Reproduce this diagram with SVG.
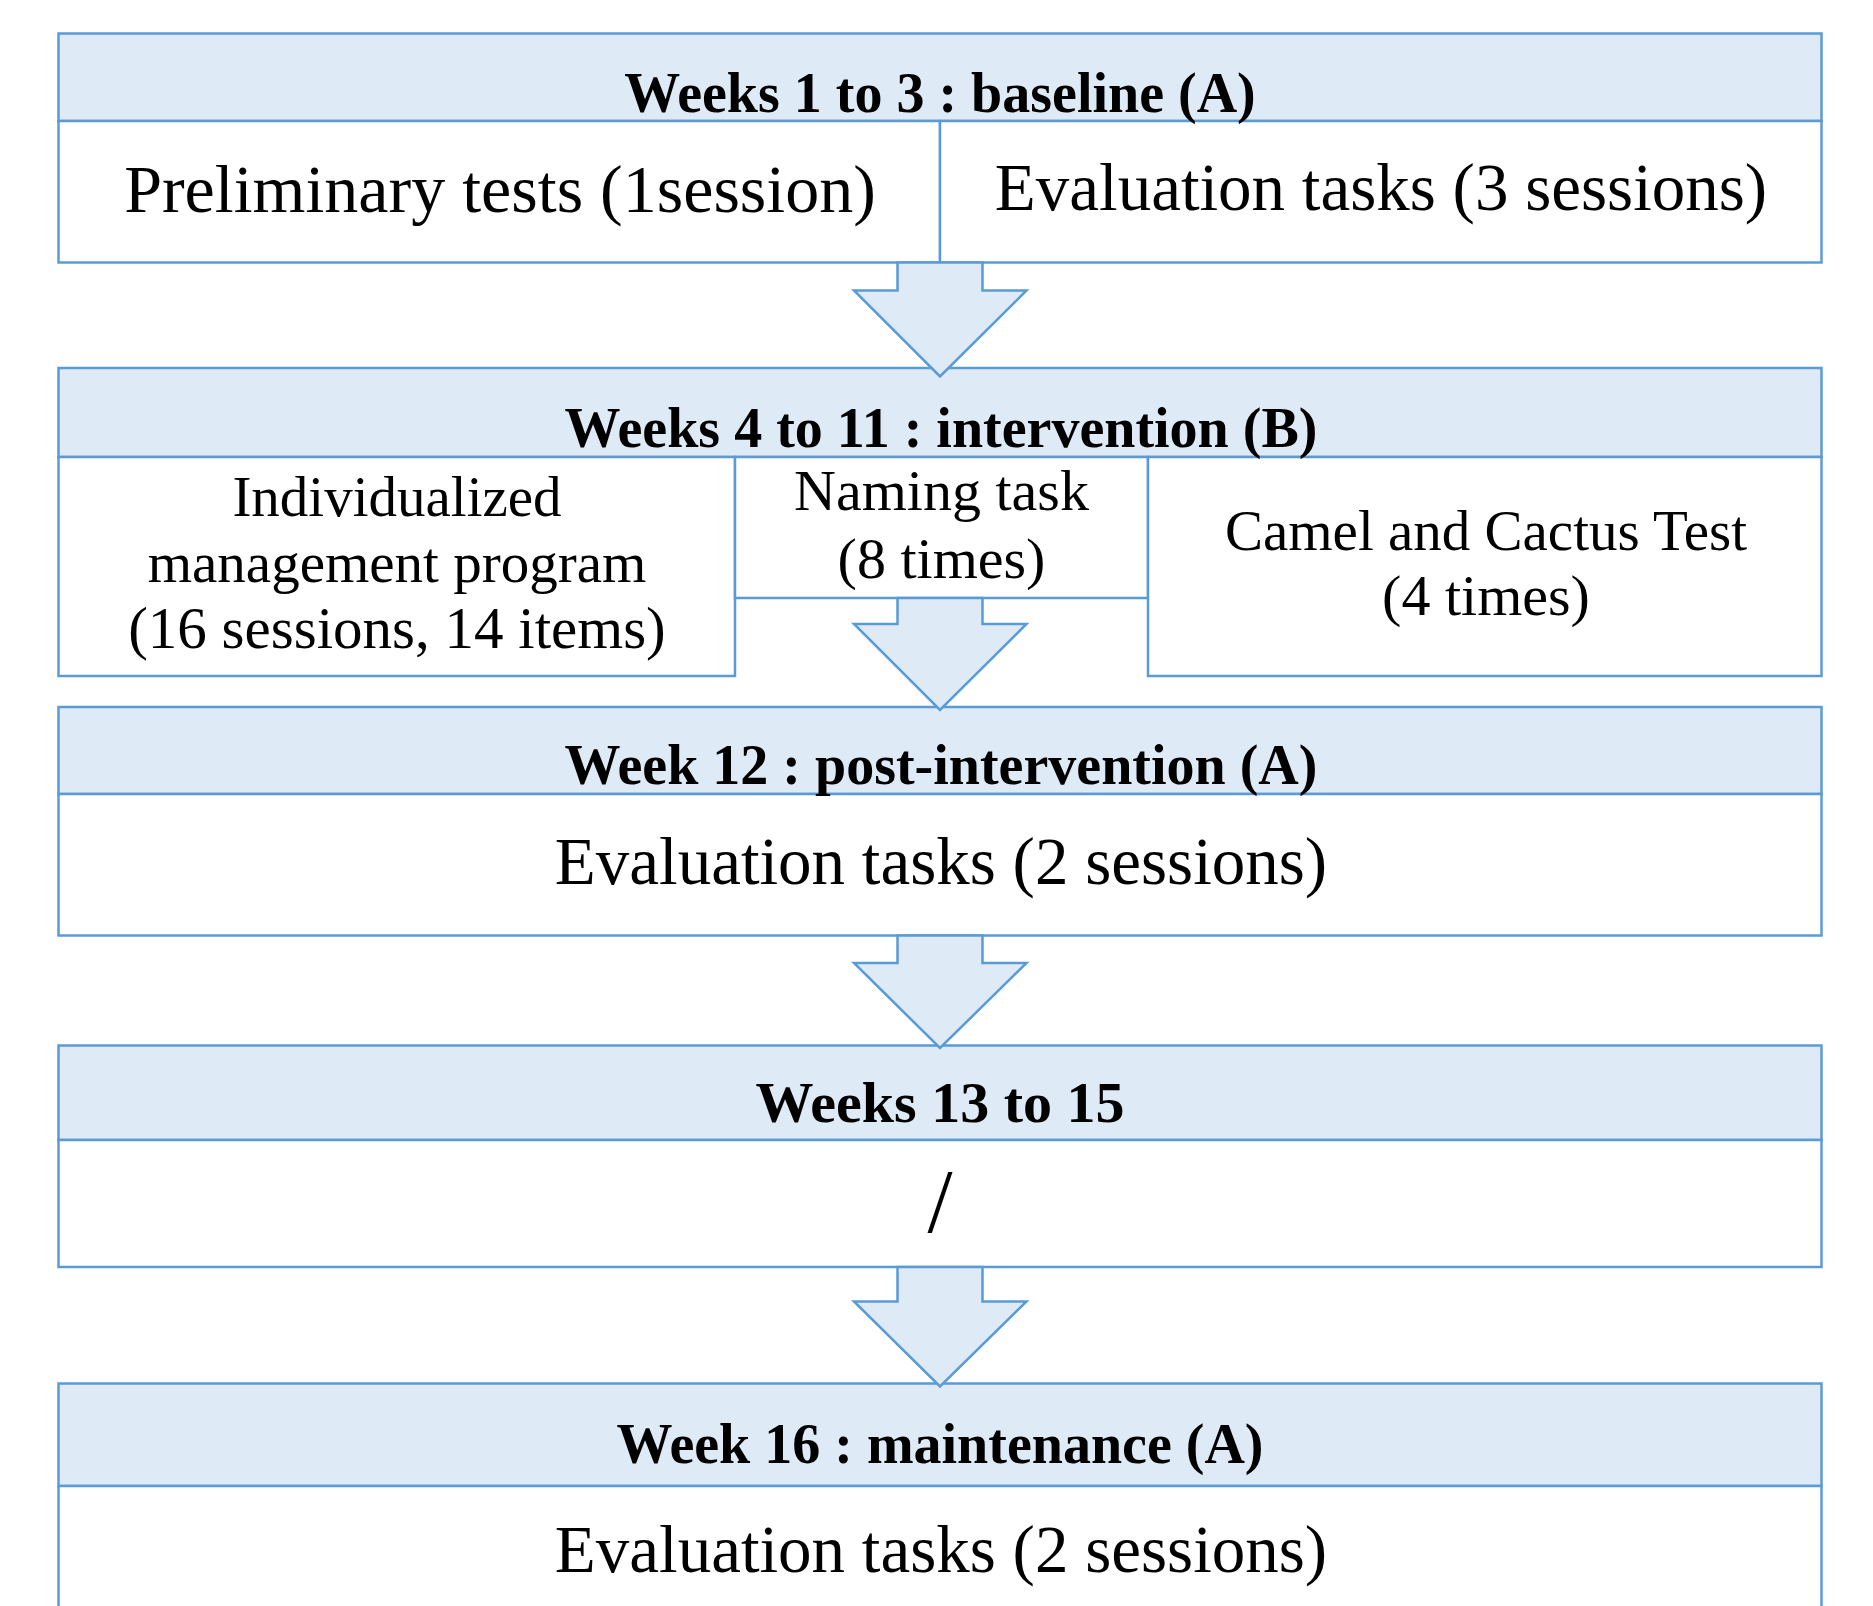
<svg xmlns="http://www.w3.org/2000/svg" width="1873" height="1606" viewBox="0 0 1873 1606">
<style>
.hdr{fill:#DEEAF6;stroke:#5B9BD5;stroke-width:2.5}
.box{fill:#FFFFFF;stroke:#5B9BD5;stroke-width:2.5}
.arrow{fill:#DEEAF6;stroke:#5B9BD5;stroke-width:2.5;stroke-linejoin:miter}
text{font-family:"Liberation Serif","Times New Roman",serif;fill:#000;text-anchor:middle}
.h{font-weight:bold;font-size:56px}
.t{font-size:67px}
.s{font-size:57px}
</style>
<rect width="1873" height="1606" fill="#FFFFFF"/>
<g id="node-baseline">
<rect class="hdr" x="58.5" y="33.5" width="1763" height="87.5"/>
<rect class="box" x="58.5" y="121" width="881.5" height="141.5"/>
<rect class="box" x="940" y="121" width="881.5" height="141.5"/>
<text class="h" x="940" y="111.5">Weeks 1 to 3 : baseline (A)</text>
<text class="t" x="500" y="211.5" style="font-size:68px">Preliminary tests (1session)</text>
<text class="t" x="1381" y="210">Evaluation tasks (3 sessions)</text>
</g>
<g id="node-intervention">
<rect class="hdr" x="58.5" y="368" width="1763" height="89"/>
<rect class="box" x="58.5" y="457" width="676.5" height="219"/>
<rect class="box" x="735" y="457" width="413" height="141"/>
<rect class="box" x="1148" y="457" width="673.5" height="219"/>
<text class="h" x="941" y="446.5">Weeks 4 to 11 : intervention (B)</text>
<text class="s" x="397" y="515.5">Individualized</text>
<text class="s" x="397" y="581.5">management program</text>
<text class="s" x="397" y="647.5" style="font-size:59px">(16 sessions, 14 items)</text>
<text class="s" x="941.5" y="510" style="font-size:58px">Naming task</text>
<text class="s" x="941.5" y="578" style="font-size:58px">(8 times)</text>
<text class="s" x="1486" y="549.5">Camel and Cactus Test</text>
<text class="s" x="1486" y="615" style="font-size:58px">(4 times)</text>
</g>
<g id="node-post">
<rect class="hdr" x="58.5" y="707" width="1763" height="87"/>
<rect class="box" x="58.5" y="794" width="1763" height="141.5"/>
<text class="h" x="941" y="784">Week 12 : post-intervention (A)</text>
<text class="t" x="941" y="883.5">Evaluation tasks (2 sessions)</text>
</g>
<g id="node-weeks13">
<rect class="hdr" x="58.5" y="1045.5" width="1763" height="94.5"/>
<rect class="box" x="58.5" y="1140" width="1763" height="127"/>
<text class="h" x="940" y="1122" style="font-size:58px">Weeks 13 to 15</text>
<text class="t" x="940" y="1232" style="font-size:90px">/</text>
</g>
<g id="node-maintenance">
<rect class="hdr" x="58.5" y="1383.5" width="1763" height="102.5"/>
<rect class="box" x="58.5" y="1486" width="1763" height="140"/>
<text class="h" x="940" y="1463">Week 16 : maintenance (A)</text>
<text class="t" x="941" y="1571.5">Evaluation tasks (2 sessions)</text>
</g>
<g id="connectors">
<path class="arrow" d="M897.5 262.5 L897.5 290.5 L854 290.5 L940 376.5 L1026.5 290.5 L982.5 290.5 L982.5 262.5 Z"/>
<path class="arrow" d="M897.5 598 L897.5 624 L854 624 L940 710 L1026.5 624 L982.5 624 L982.5 598 Z"/>
<path class="arrow" d="M897.5 935.5 L897.5 963 L854 963 L940 1048 L1026.5 963 L982.5 963 L982.5 935.5 Z"/>
<path class="arrow" d="M897.5 1267 L897.5 1301.5 L854 1301.5 L940 1386.5 L1026.5 1301.5 L982.5 1301.5 L982.5 1267 Z"/>
</g>
</svg>
